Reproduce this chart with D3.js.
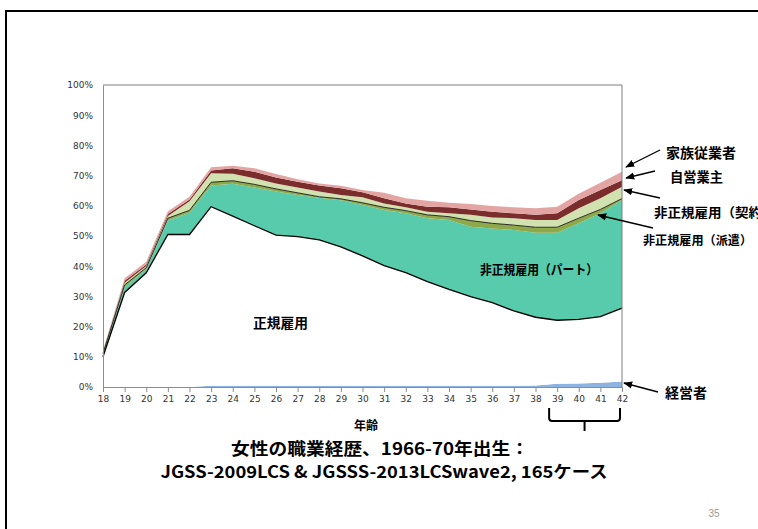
<!DOCTYPE html>
<html><head><meta charset="utf-8">
<script src="https://cdn.jsdelivr.net/npm/d3@7"></script>
<style>
html,body{margin:0;padding:0;background:#fff;}
svg{display:block;}
</style></head>
<body>
<svg id="c" width="758" height="529"></svg>
<script>
// ---- data (percent of cohort at each age) ----
const ages = [18,19,20,21,22,23,24,25,26,27,28,29,30,31,32,33,34,35,36,37,38,39,40,41,42];
const keiei   = [0,0,0,0,0,0.4,0.4,0.4,0.4,0.4,0.4,0.4,0.4,0.4,0.4,0.4,0.4,0.4,0.4,0.4,0.5,1.1,1.2,1.4,1.8];
const seiki   = [10.0,31.3,37.8,50.5,50.5,59.3,56.2,53.0,49.9,49.4,48.3,46.0,43.0,39.8,37.5,34.5,31.9,29.5,27.5,24.8,22.6,21.0,21.2,21.9,24.3];
const part    = [0.8,1.7,1.2,4.6,7.2,7.0,10.7,12.7,14.4,13.8,14.0,15.4,16.9,18.4,19.6,21.0,23.0,23.2,24.6,26.8,28.0,29.0,31.8,34.2,35.8];
const haken   = [0.3,0.8,0.5,0.8,0.8,1.1,1.0,1.0,0.9,0.7,0.3,0.5,0.7,0.9,0.9,1.1,1.1,2.0,1.7,1.6,1.8,1.8,1.7,1.3,0.5];
const keiyaku = [0.3,0.7,0.6,0.7,3.0,3.0,2.3,2.0,1.8,1.8,1.7,1.3,1.8,1.3,1.1,1.0,1.1,1.9,1.9,2.3,2.4,2.4,3.3,3.7,3.9];
const jiei    = [0.3,0.7,0.5,0.7,0.6,0.9,1.8,2.2,2.0,1.9,2.0,2.2,1.7,1.7,1.3,1.7,2.0,1.8,1.9,1.6,1.7,2.2,2.7,2.7,2.2];
const kazoku  = [0.4,0.8,0.9,0.9,0.9,1.1,0.9,1.1,1.1,0.8,0.7,0.8,0.7,1.8,1.7,2.0,1.5,1.8,1.9,2.0,2.2,2.2,2.1,2.4,2.8];
const yTicks  = [0,10,20,30,40,50,60,70,80,90,100];
const seriesNames = ["経営者","正規雇用","非正規雇用（パート）","非正規雇用（派遣）","非正規雇用（契約","自営業主","家族従業者"];
const seriesColors = ["#8db3e2","#ffffff","#57cbac","#8ea84a","#d2e1b0","#7b2c2c","#e3a5a3"];
const titleLine1 = "女性の職業経歴、1966-70年出生：";
const titleLine2 = "JGSS-2009LCS & JGSSS-2013LCSwave2, 165ケース";
const xTitle = "年齢";
const pageNo = "35";

// ---- build table ----
const keys = ["keiei","seiki","part","haken","keiyaku","jiei","kazoku"];
const cols = {keiei,seiki,part,haken,keiyaku,jiei,kazoku};
const table = ages.map((a,i)=>{const r={age:a}; keys.forEach(k=>r[k]=cols[k][i]); return r;});
const stack = d3.stack().keys(keys)(table);

const svg = d3.select("#c");
const L=103,R=622,T=85,B=387;
const x = d3.scalePoint().domain(ages).range([L,R]).padding(0);
const y = d3.scaleLinear().domain([0,100]).range([B,T]);

// slide frame
svg.append("path").attr("d","M6,529 V11 H758").attr("fill","none").attr("stroke","#000").attr("stroke-width",2);

// areas
const area = d3.area().x(d=>x(d.data.age)).y0(d=>y(d[0])).y1(d=>y(d[1]));
svg.append("g").selectAll("path").data(stack).join("path")
  .attr("d",area).attr("fill",(d,i)=>seriesColors[i]).attr("stroke","none");

// boundary lines
const topLine = d3.line().x(d=>x(d.data.age)).y(d=>y(d[1]));
svg.append("path").attr("d",topLine(stack[1])).attr("fill","none").attr("stroke","#000").attr("stroke-width",1.3);
svg.append("path").attr("d",topLine(stack[3])).attr("fill","none").attr("stroke","#1a1a1a").attr("stroke-width",0.9);

// plot frame
svg.append("path").attr("d",`M${L},${T} H${R} V${B}`).attr("fill","none").attr("stroke","#7f7f7f").attr("stroke-width",1);

// axes
const yAxis = d3.axisLeft(y).tickValues(yTicks).tickFormat(d=>d+"%").tickSize(0).tickPadding(10);
const gy = svg.append("g").attr("transform",`translate(${L},0)`).call(yAxis);
gy.select(".domain").attr("stroke","#8c8c8c");
gy.selectAll("text").attr("font-family","DejaVu Sans").attr("font-size",9).attr("fill","#333");

const xAxis = d3.axisBottom(x).tickSize(5).tickPadding(4);
const gx = svg.append("g").attr("transform",`translate(0,${B})`).call(xAxis);
gx.select(".domain").attr("stroke","#8c8c8c").attr("d",`M${L},0.5H${R}`);
gx.selectAll(".tick line").attr("stroke","#8c8c8c");
gx.selectAll("text").attr("font-family","DejaVu Sans").attr("font-size",9).attr("fill","#333");

// text helper
const jp = "'Noto Sans CJK JP', sans-serif";
function label(t,xx,yy,size,anchor,len){
  const e = svg.append("text").attr("x",xx).attr("y",yy).attr("font-family",jp).attr("font-weight",700)
    .attr("font-size",size).attr("text-anchor",anchor||"start").attr("dominant-baseline","central").attr("fill","#000").text(t);
  if(len) e.attr("textLength",len).attr("lengthAdjust","spacingAndGlyphs");
  return e;
}
label(xTitle,366,424,12,"middle");
label(titleLine1,380,448,16.5,"middle",298);
label(titleLine2,384,471,16.5,"middle",447);
svg.append("text").attr("x",714).attr("y",513).attr("font-family","'Liberation Sans', sans-serif").attr("font-size",10)
  .attr("fill","#999").attr("text-anchor","middle").attr("dominant-baseline","central").text(pageNo);

// series labels
label(seriesNames[1],253,322,13.5,"start",55);
label(seriesNames[2],480,268,13,"start",118);
label(seriesNames[6],666,152,13.5,"start",70);
label(seriesNames[5],670,176,13.5,"start",53);
label(seriesNames[4],654,211,13,"start",108);
label(seriesNames[3],643,240,12.2,"start",109);
label(seriesNames[0],665,392,13.5,"start",42);

// arrows
const defs = svg.append("defs");
defs.append("marker").attr("id","ah").attr("viewBox","0 0 10 10").attr("refX",9).attr("refY",5)
  .attr("markerWidth",7).attr("markerHeight",7).attr("orient","auto-start-reverse")
  .append("path").attr("d","M0,1 L10,5 L0,9 z").attr("fill","#000");
const arrows = [[660,150,626,167],[655,171,626,178],[660,198,624,190],[653,228,598,215],[658,392,624,383]];
svg.append("g").selectAll("line").data(arrows).join("line")
  .attr("x1",d=>d[0]).attr("y1",d=>d[1]).attr("x2",d=>d[2]).attr("y2",d=>d[3])
  .attr("stroke","#000").attr("stroke-width",1.3).attr("marker-end","url(#ah)");

// bracket under ages 39-42
const bx0 = x(39)-8, bx1 = x(42)-2, bm = (bx0+bx1)/2;
svg.append("path").attr("d",`M${bx0},408 V418 Q${bx0},421 ${bx0+3},421 H${bx1-3} Q${bx1},421 ${bx1},418 V408 M${bm},421 V431`)
  .attr("fill","none").attr("stroke","#000").attr("stroke-width",2);
</script>
</body></html>
